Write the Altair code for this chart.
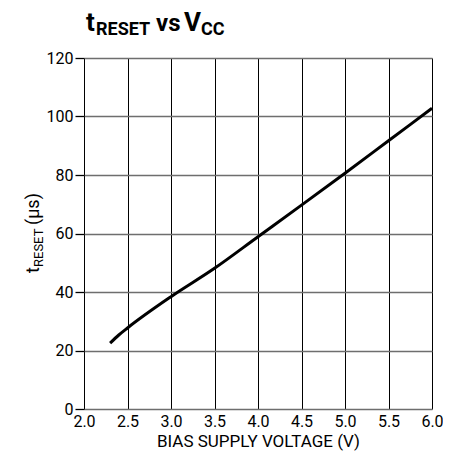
import altair as alt
import pandas as pd

# Data
vcc = [2.3, 2.4, 2.5, 3.0, 3.5, 4.0, 4.5, 5.0, 5.5, 6.0]
t_reset = [22.5, 25.3, 27.7, 38.4, 48.1, 58.9, 69.7, 80.6, 91.7, 102.8]
x_ticks = [2.0, 2.5, 3.0, 3.5, 4.0, 4.5, 5.0, 5.5, 6.0]
y_ticks = [0, 20, 40, 60, 80, 100, 120]

FONT = "Roboto, Liberation Sans, sans-serif"

df = pd.DataFrame({"vcc": vcc, "t": t_reset})

W, H = 348, 351

xs = alt.Scale(domain=[2.0, 6.0], nice=False)
ys = alt.Scale(domain=[0, 120], nice=False)

base = alt.Chart(df).mark_line(opacity=0).encode(
    x=alt.X("vcc:Q", scale=xs, title="BIAS SUPPLY VOLTAGE (V)",
            axis=alt.Axis(values=x_ticks, format=".1f", grid=True, gridColor="#000",
                          gridWidth=1, ticks=False, domain=False,
                          labelFont=FONT, labelFontSize=16, labelColor="#000",
                          labelPadding=4, titleFont=FONT, titleFontSize=17,
                          titleFontWeight="normal", titleColor="#000", titlePadding=4,
                          labelFlush=False)),
    y=alt.Y("t:Q", scale=ys,
            axis=alt.Axis(values=y_ticks, grid=True, gridColor="#6e6e6e", gridWidth=1.3,
                          tickColor="#000", tickSize=9, tickWidth=1.3, domain=False,
                          labelFont=FONT, labelFontSize=16, labelColor="#000",
                          labelPadding=2, title=None)),
)

line = alt.Chart(df).mark_line(color="#000", strokeWidth=3, interpolate="monotone").encode(
    x=alt.X("vcc:Q", scale=xs),
    y=alt.Y("t:Q", scale=ys),
)

def seg(text, x, y, size, bold=False, angle=0):
    return alt.Chart(pd.DataFrame({"s": [text]})).mark_text(
        text=text, font=FONT, fontSize=size, fontWeight="bold" if bold else "normal",
        align="left", baseline="alphabetic", angle=angle, color="#000",
    ).encode(x=alt.value(x), y=alt.value(y))

title_parts = [
    seg("t", 2, -27, 26, True),
    seg("RESET", 12, -23, 18, True),
    seg("vs", 72, -27, 24, True),
    seg("V", 100, -27, 26, True),
    seg("CC", 117, -23, 18, True),
]

ytitle_parts = [
    seg("t", -45, 215, 18, False, 270),
    seg("RESET", -41, 209, 13, False, 270),
    seg("(µs)", -45, 167, 18, False, 270),
]

chart = alt.layer(base, line, *title_parts, *ytitle_parts).properties(
    width=W, height=H,
    autosize=alt.AutoSizeParams(type="none"),
    padding={"left": 76, "top": 50, "right": 11, "bottom": 46},
).configure_view(stroke="#000", strokeWidth=1.5).configure(background="white")

chart.save("out.html", embed_options={"renderer": "svg", "actions": False})
